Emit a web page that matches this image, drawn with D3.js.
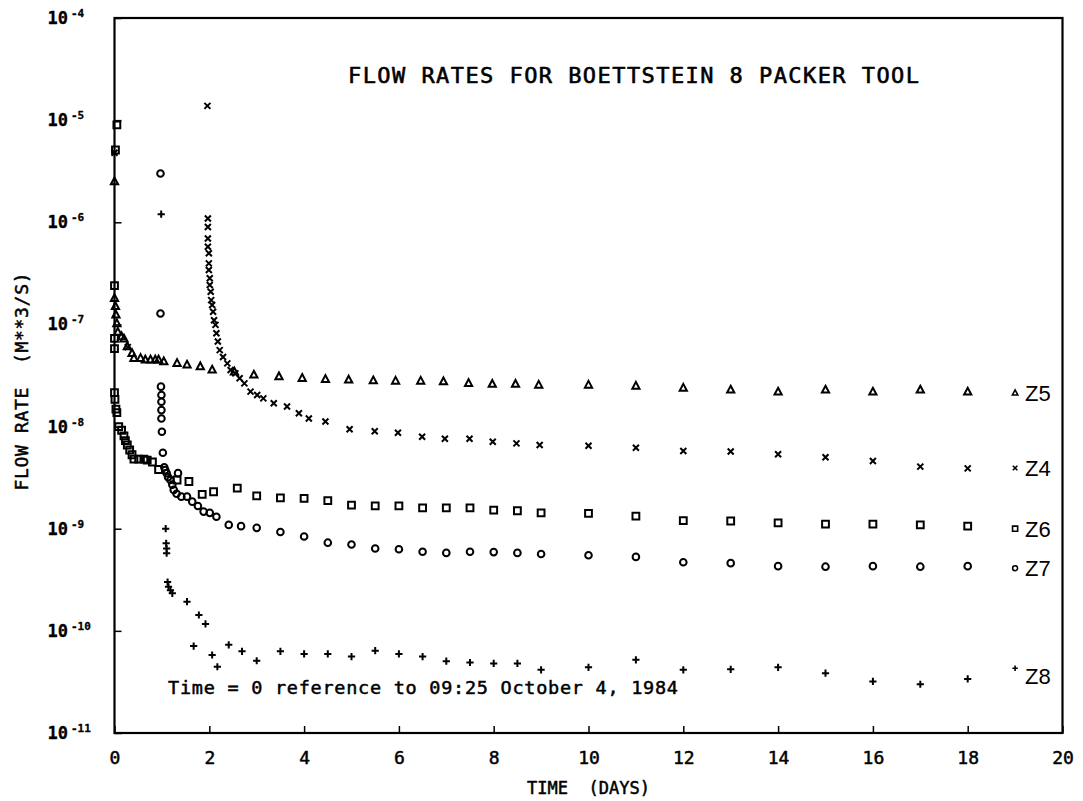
<!DOCTYPE html>
<html><head><meta charset="utf-8">
<script src="https://cdn.jsdelivr.net/npm/d3@7"></script>
<style>body{margin:0;background:#fff} text{white-space:pre}</style>
</head><body>
<svg id="c" width="1083" height="801" xmlns="http://www.w3.org/2000/svg"></svg>
<script>
// ---------- data ----------
const dayTicks = [0, 2, 4, 6, 8, 10, 12, 14, 16, 18, 20];
const rateTicks = [1e-11, 1e-10, 1e-9, 1e-8, 1e-7, 1e-6, 1e-5, 1e-4];
const rateTickExponents = ["-11", "-10", "-9", "-8", "-7", "-6", "-5", "-4"];
const seriesNames = ["Z5", "Z4", "Z6", "Z7", "Z8"];
const seriesSymbols = ["triangle", "cross", "square", "circle", "plus"];

// [day, flow rate m^3/s]
const z5 = [[0.0,2.5e-6],[0.0,1.8e-7],[0.02,1.5e-7],[0.03,1.24e-7],[0.05,1.02e-7],[0.07,8.4e-8],[0.15,7.6e-8],[0.2,7.2e-8],[0.27,6.05e-8],[0.37,5.2e-8],[0.41,4.66e-8],[0.55,4.66e-8],[0.65,4.49e-8],[0.76,4.49e-8],[0.86,4.49e-8],[0.93,4.49e-8],[1.04,4.32e-8],[1.32,4.16e-8],[1.53,4.01e-8],[1.81,3.86e-8],[2.06,3.58e-8],[2.53,3.43e-8],[2.94,3.2e-8],[3.47,3.08e-8],[3.96,2.97e-8],[4.45,2.9e-8],[4.94,2.86e-8],[5.46,2.81e-8],[5.93,2.79e-8],[6.46,2.79e-8],[6.94,2.75e-8],[7.47,2.65e-8],[7.97,2.6e-8],[8.46,2.6e-8],[8.95,2.55e-8],[10,2.55e-8],[11,2.49e-8],[12,2.38e-8],[13,2.28e-8],[14,2.18e-8],[15,2.28e-8],[16,2.18e-8],[17,2.28e-8],[18,2.18e-8]];
const z4 = [[0.0,4.8e-6],[0.28,6.0e-8],[1.96,1.38e-5],[1.97,1.09e-6],[1.97,9.0e-7],[1.97,6.95e-7],[1.97,5.77e-7],[1.99,4.97e-7],[1.99,3.96e-7],[1.99,3.41e-7],[2.01,2.83e-7],[2.01,2.43e-7],[2.03,2.09e-7],[2.04,1.73e-7],[2.06,1.55e-7],[2.08,1.33e-7],[2.1,1.1e-7],[2.13,9.9e-8],[2.15,8.2e-8],[2.18,6.8e-8],[2.22,5.6e-8],[2.29,4.8e-8],[2.38,4.16e-8],[2.45,3.58e-8],[2.55,3.32e-8],[2.64,2.97e-8],[2.74,2.65e-8],[2.87,2.2e-8],[3.01,2.04e-8],[3.14,1.89e-8],[3.36,1.69e-8],[3.64,1.57e-8],[3.89,1.35e-8],[4.1,1.2e-8],[4.45,1.12e-8],[4.96,9.4e-9],[5.49,9.0e-9],[5.98,8.7e-9],[6.49,7.95e-9],[6.97,7.6e-9],[7.49,7.6e-9],[7.98,7.1e-9],[8.48,6.85e-9],[8.97,6.6e-9],[10,6.5e-9],[11,6.2e-9],[12,5.77e-9],[13,5.7e-9],[14,5.35e-9],[15,5.0e-9],[16,4.6e-9],[17,4.05e-9],[18,3.9e-9]];
const z6 = [[0.0,2.4e-7],[0.0,7.3e-8],[0.0,5.8e-8],[0.0,2.15e-8],[0.01,1.85e-8],[0.02,5.1e-6],[0.03,1.48e-8],[0.05,9.0e-6],[0.05,1.37e-8],[0.09,1.0e-8],[0.15,9.2e-9],[0.2,8.1e-9],[0.23,7.3e-9],[0.27,6.6e-9],[0.32,5.9e-9],[0.37,5.3e-9],[0.41,4.8e-9],[0.51,4.8e-9],[0.62,4.8e-9],[0.69,4.7e-9],[0.8,4.5e-9],[0.93,3.8e-9],[1.32,3.0e-9],[1.57,2.9e-9],[1.85,2.17e-9],[2.09,2.3e-9],[2.59,2.5e-9],[3.0,2.1e-9],[3.5,2.0e-9],[4.0,1.98e-9],[4.5,1.88e-9],[5.0,1.7e-9],[5.5,1.67e-9],[6.0,1.67e-9],[6.5,1.6e-9],[7.0,1.6e-9],[7.5,1.6e-9],[8.0,1.52e-9],[8.5,1.5e-9],[9.0,1.43e-9],[10,1.41e-9],[11,1.33e-9],[12,1.2e-9],[13,1.19e-9],[14,1.14e-9],[15,1.11e-9],[16,1.11e-9],[17,1.09e-9],[18,1.06e-9]];
const z7 = [[0.97,3.0e-6],[0.97,1.28e-7],[0.98,2.46e-8],[0.99,2.04e-8],[0.99,1.75e-8],[0.99,1.45e-8],[0.99,1.2e-8],[1.0,8.9e-9],[1.02,5.55e-9],[1.05,4.0e-9],[1.07,3.75e-9],[1.1,3.5e-9],[1.13,3.2e-9],[1.18,3.0e-9],[1.22,2.7e-9],[1.25,2.4e-9],[1.31,2.2e-9],[1.34,3.5e-9],[1.41,2.06e-9],[1.53,2.06e-9],[1.64,1.84e-9],[1.76,1.67e-9],[1.88,1.47e-9],[2.01,1.43e-9],[2.15,1.31e-9],[2.41,1.09e-9],[2.67,1.06e-9],[3.0,1.02e-9],[3.5,9.3e-10],[4.0,8.4e-10],[4.5,7.3e-10],[5.0,7.0e-10],[5.5,6.4e-10],[6.0,6.3e-10],[6.5,5.95e-10],[7.0,5.8e-10],[7.5,5.95e-10],[8.0,5.9e-10],[8.5,5.8e-10],[9.0,5.65e-10],[10,5.5e-10],[11,5.3e-10],[12,4.7e-10],[13,4.6e-10],[14,4.3e-10],[15,4.25e-10],[16,4.3e-10],[17,4.25e-10],[18,4.3e-10]];
const z8 = [[0.985,1.2e-6],[1.08,1.0e-9],[1.09,7.2e-10],[1.1,6.4e-10],[1.1,5.75e-10],[1.12,3.0e-10],[1.14,2.7e-10],[1.18,2.5e-10],[1.22,2.33e-10],[1.53,1.93e-10],[1.67,7.1e-11],[1.78,1.43e-10],[1.92,1.17e-10],[2.06,5.8e-11],[2.17,4.45e-11],[2.41,7.3e-11],[2.69,6.3e-11],[3.0,5.1e-11],[3.5,6.3e-11],[4.0,5.95e-11],[4.5,5.95e-11],[5.0,5.6e-11],[5.5,6.4e-11],[6.0,5.95e-11],[6.5,5.6e-11],[7.0,5.05e-11],[7.5,4.9e-11],[8.0,4.8e-11],[8.5,4.8e-11],[9.0,4.15e-11],[10,4.4e-11],[11,5.2e-11],[12,4.15e-11],[13,4.2e-11],[14,4.4e-11],[15,3.85e-11],[16,3.2e-11],[17,3.0e-11],[18,3.38e-11]];
const seriesData = [z5, z4, z6, z7, z8];

// end-of-curve labels (day, rate of label, rate of its small marker)
const labelDay = 19;
const labelRates = [2.13e-8, 3.93e-9, 1.0e-9, 4.1e-10, 3.6e-11];
const labelMarkerRates = [2.13e-8, 3.93e-9, 1.0e-9, 4.1e-10, 4.3e-11];

const titleText = "FLOW RATES FOR BOETTSTEIN 8 PACKER TOOL";
const noteText = "Time = 0 reference to 09:25 October 4, 1984";
const xTitle = "TIME  (DAYS)";
const yTitle = "FLOW RATE  (M**3/S)";

// ---------- drawing ----------
const svg = d3.select("#c");
const mono = "'DejaVu Sans Mono', 'Liberation Mono', monospace";
const x = d3.scaleLinear().domain([0, 20]).range([114.5, 1062.5]);
const y = d3.scaleLog().domain([1e-11, 1e-4]).range([733, 18]);

svg.append("rect").attr("width", 1083).attr("height", 801).attr("fill", "#fff");

function heavy(sel, w) {
  return sel.attr("fill", "#000").attr("stroke", "#000").attr("stroke-width", w)
    .attr("stroke-linejoin", "round");
}

// frame
svg.append("rect")
  .attr("x", x(0)).attr("y", y(1e-4))
  .attr("width", x(20) - x(0)).attr("height", y(1e-11) - y(1e-4))
  .attr("fill", "none").attr("stroke", "#000").attr("stroke-width", 2.2);

// bottom axis
const gx = svg.append("g").attr("transform", `translate(0,${y(1e-11)})`)
  .call(d3.axisBottom(x).tickValues(dayTicks).tickFormat(d3.format("d"))
    .tickSizeInner(-7).tickSizeOuter(0).tickPadding(18));
gx.select(".domain").remove();
gx.selectAll("line").attr("stroke", "#000").attr("stroke-width", 1.5);
heavy(gx.selectAll("text").attr("font-family", mono).attr("font-size", 18), 0.5);

// left axis
const gy = svg.append("g").attr("transform", `translate(${x(0)},0)`)
  .call(d3.axisLeft(y).tickValues(rateTicks).tickFormat("")
    .tickSizeInner(-7).tickSizeOuter(0));
gy.select(".domain").remove();
gy.selectAll("line").attr("stroke", "#000").attr("stroke-width", 1.5);

const yl = svg.append("g");
rateTicks.forEach((v, i) => {
  heavy(yl.append("text").attr("x", 68).attr("y", y(v) + 6)
    .attr("text-anchor", "end").attr("font-family", mono).attr("font-size", 17)
    .attr("font-weight", "bold").text("10"), 0.3);
  heavy(yl.append("text").attr("x", 71).attr("y", y(v) - 1)
    .attr("font-family", mono).attr("font-size", 11).attr("font-weight", "bold")
    .text(rateTickExponents[i]), 0.3);
});

// titles
heavy(svg.append("text").attr("x", (x(0) + x(20)) / 2).attr("y", 794)
  .attr("text-anchor", "middle").attr("font-family", mono).attr("font-size", 17)
  .text(xTitle), 0.5);
heavy(svg.append("text").attr("transform", `translate(28,${(y(1e-4) + y(1e-11)) / 2 + 6}) rotate(-90)`)
  .attr("text-anchor", "middle").attr("font-family", mono).attr("font-size", 18)
  .attr("textLength", 218).attr("lengthAdjust", "spacing").text(yTitle), 0.5);
heavy(svg.append("text").attr("x", 348).attr("y", 83)
  .attr("font-family", mono).attr("font-size", 22)
  .attr("textLength", 571).attr("lengthAdjust", "spacing").text(titleText), 0.6);
heavy(svg.append("text").attr("x", 168).attr("y", 694)
  .attr("font-family", mono).attr("font-size", 18.5)
  .attr("textLength", 510).attr("lengthAdjust", "spacing").text(noteText), 0.5);

// markers
function symbolPath(type, k) {
  switch (type) {
    case "triangle": return `M0,${-4.2*k}L${3.6*k},${2.6*k}L${-3.6*k},${2.6*k}Z`;
    case "square": return `M${-3.4*k},${-3.4*k}h${6.8*k}v${6.8*k}h${-6.8*k}Z`;
    case "circle": { const r = 3.3*k; return `M${r},0A${r},${r} 0 1 1 ${-r},0A${r},${r} 0 1 1 ${r},0Z`; }
    case "cross": return `M${-3*k},${-3*k}L${3*k},${3*k}M${-3*k},${3*k}L${3*k},${-3*k}`;
    case "plus": return `M${-3.6*k},0H${3.6*k}M0,${-3.6*k}V${3.6*k}`;
  }
}

seriesData.forEach((data, i) => {
  svg.append("g").selectAll("path").data(data).join("path")
    .attr("transform", d => `translate(${x(d[0])},${y(d[1])})`)
    .attr("d", symbolPath(seriesSymbols[i], 1))
    .attr("fill", "none").attr("stroke", "#000").attr("stroke-width", 2);
});

// labels at right
seriesNames.forEach((name, i) => {
  svg.append("path")
    .attr("transform", `translate(${x(labelDay)},${y(labelMarkerRates[i])})`)
    .attr("d", symbolPath(seriesSymbols[i], 0.75))
    .attr("fill", "none").attr("stroke", "#000").attr("stroke-width", 1.6);
  svg.append("text").attr("x", x(labelDay) + 10).attr("y", y(labelRates[i]) + 8)
    .attr("font-family", "'Liberation Sans', Arial, sans-serif").attr("font-size", 22)
    .attr("fill", "#000").text(name);
});
</script>
</body></html>
